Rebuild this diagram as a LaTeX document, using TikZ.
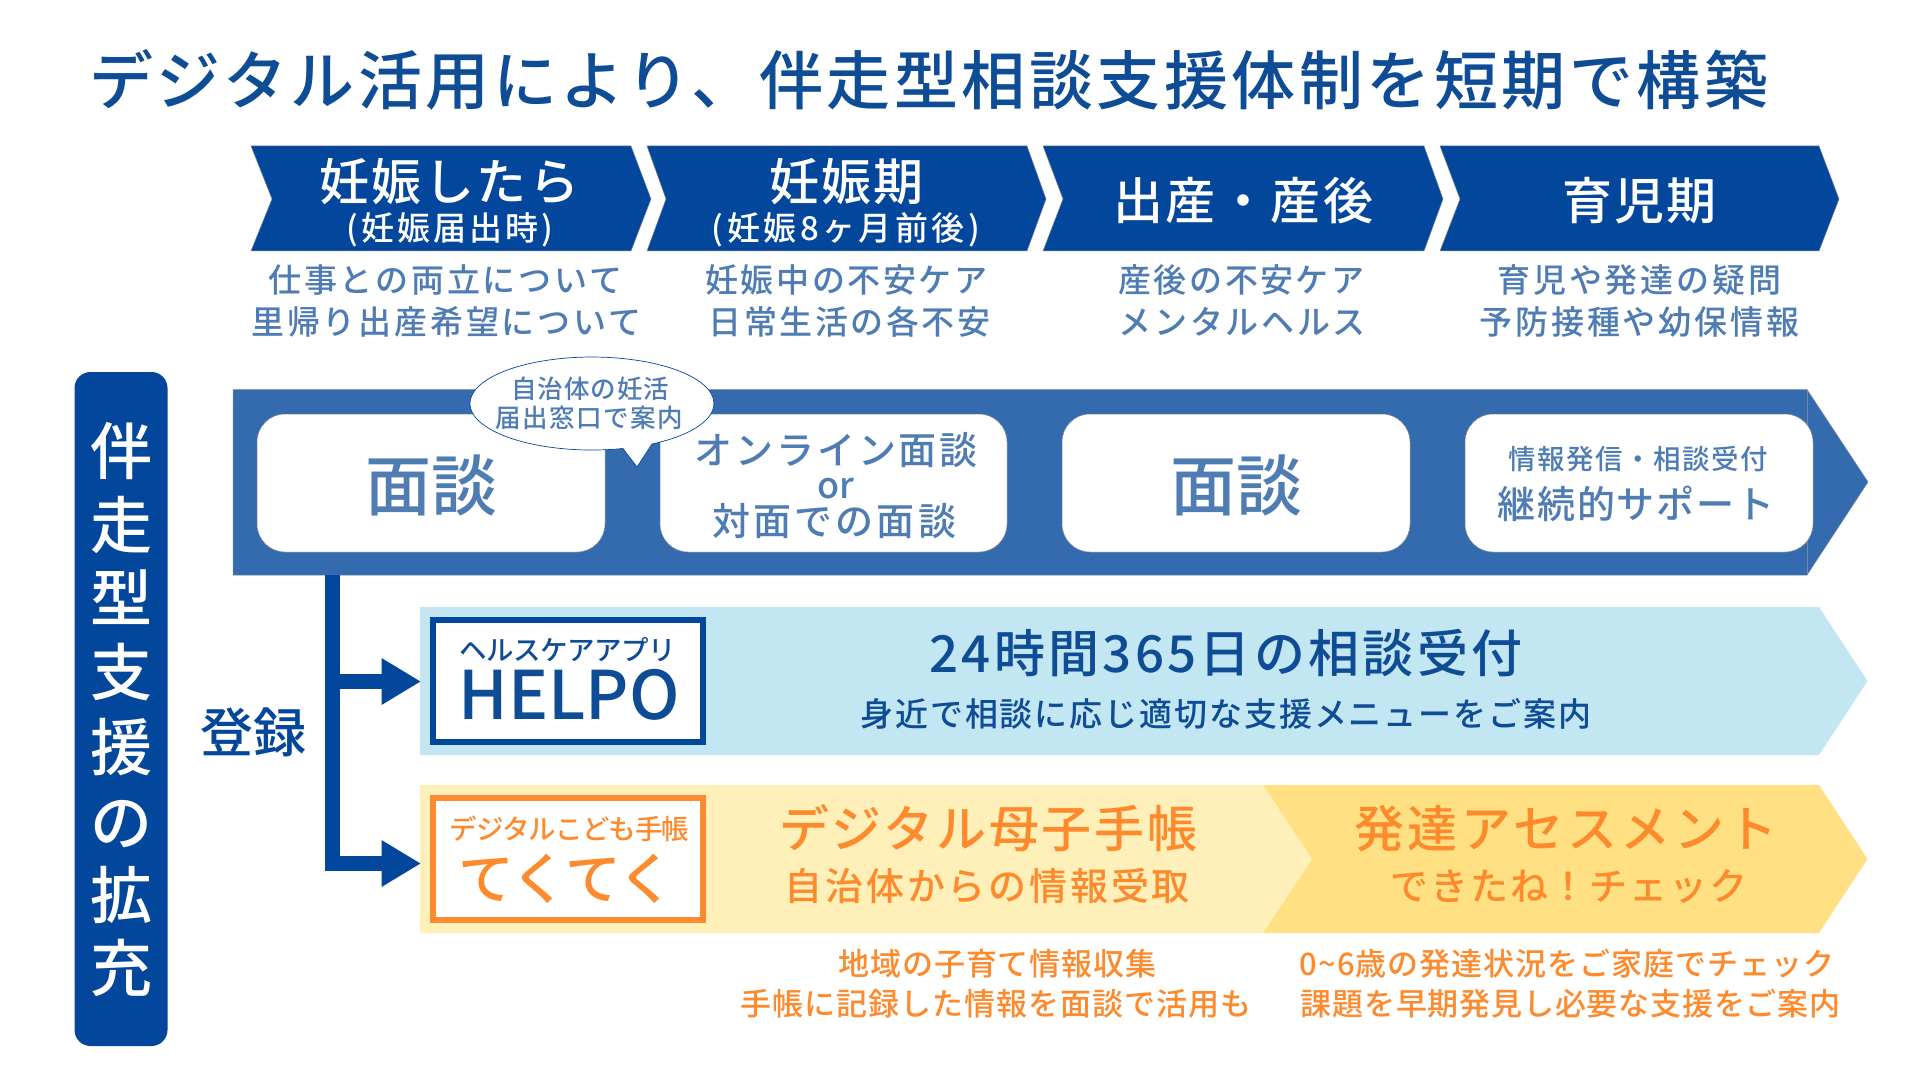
\documentclass[tikz,border=0pt]{standalone}
\usepackage{fontspec}
\usetikzlibrary{arrows.meta}
\setmainfont{Noto Sans CJK JP Medium}
\definecolor{navy}{HTML}{03479C}
\definecolor{band}{HTML}{336BAE}
\definecolor{steel}{HTML}{4F7DB3}
\definecolor{ink}{HTML}{0F4C96}
\definecolor{skyb}{HTML}{C3E6F3}
\definecolor{ylight}{HTML}{FFEFB8}
\definecolor{ydark}{HTML}{FFE083}
\definecolor{orng}{HTML}{FD8A2C}
\definecolor{edge}{HTML}{7C8796}
\tikzset{
  lab/.style={anchor=base,inner sep=0pt,outer sep=0pt},
  chev/.style={fill=navy,draw=edge,line width=.25pt},
  whitebox/.style={fill=white,draw=edge,line width=.25pt,rounded corners=14pt},
  logobox/.style={fill=white,line width=3pt,line join=miter},
  feed/.style={draw=navy,line width=7.5pt,line join=miter,-{Triangle[length=19.75pt,width=22pt]}}
}
% name, centre x, centre y, size, pitch (all in px), colour, text
\newcommand\lbl[7]{%
  \pgfmathsetmacro\lblsz{#4/2}%
  \pgfmathsetmacro\lbly{#3+0.37*#4}%
  \pgfmathsetmacro\lblx{#2-0.6*(#5-#4)}%
  \pgfmathsetmacro\lblls{(#5-#4)/#4*100}%
  \node[lab,text=#6] (#1) at (\lblx,\lbly) {\fontsize{\lblsz}{\lblsz}\selectfont
    \edef\lbltmp{\noexpand\addfontfeature{LetterSpace=\lblls}}\lbltmp #7};%
}
% left, shoulder, tip, notch
\newcommand\chevron[4]{\draw[chev] (#1,146) -- (#2,146) -- (#3,199) -- (#2,251) -- (#1,251) -- (#4,199) -- cycle;}
\begin{document}
\begin{tikzpicture}[x=.5pt,y=-.5pt]
\useasboundingbox (0,0) rectangle (1920,1080);
\fill[white] (0,0) rectangle (1920,1080);
% title
\lbl{title}{931}{81}{64}{67.5}{ink}{デジタル活用により、伴走型相談支援体制を短期で構築}
% phases
\chevron{251}{631}{651}{272}
\chevron{647}{1027}{1046}{666}
\chevron{1043}{1424}{1443}{1063}
\chevron{1440}{1819}{1839}{1460}
\lbl{p1}{451}{182}{50}{52.5}{white}{妊娠したら}
\lbl{p1s}{452}{228}{33}{36}{white}{(妊娠届出時)}
\lbl{p2}{848}{182}{50}{52}{white}{妊娠期}
\lbl{p2s}{848}{228}{33}{36.5}{white}{(妊娠8ヶ月前後)}
\lbl{p3}{1245}{201}{50}{52.5}{white}{出産・産後}
\lbl{p4}{1641}{201}{50}{52}{white}{育児期}
\lbl{d1a}{447}{280}{33}{35.8}{steel}{仕事との両立について}
\lbl{d1b}{448}{322}{33}{35.8}{steel}{里帰り出産希望について}
\lbl{d2a}{848}{280}{33}{35.6}{steel}{妊娠中の不安ケア}
\lbl{d2b}{851}{322}{33}{35.5}{steel}{日常生活の各不安}
\lbl{d3a}{1243}{280}{33}{35.5}{steel}{産後の不安ケア}
\lbl{d3b}{1244}{322}{33}{35.7}{steel}{メンタルヘルス}
\lbl{d4a}{1641}{280}{33}{35.8}{steel}{育児や発達の疑問}
\lbl{d4b}{1641}{322}{33}{35.8}{steel}{予防接種や幼保情報}
% main band
\draw[fill=band,draw=edge,line width=.25pt] (233,389.5) -- (1807,389.5) -- (1868,482) -- (1807,575) -- (233,575) -- cycle;
\draw[edge,line width=.25pt] (1807,389.5) -- (1807,575);
\coordinate (bandout) at (332.5,575);
\draw[whitebox] (257,414) rectangle (605,552);
\draw[whitebox] (660,414) rectangle (1007,552);
\draw[whitebox] (1062,414) rectangle (1410,552);
\draw[whitebox] (1465,414) rectangle (1813,552);
\lbl{m1}{432}{486}{66}{66.5}{steel}{面談}
\lbl{m2a}{838}{450}{38}{40.8}{steel}{オンライン面談}
\node[lab,text=steel] (m2b) at (836,498) {\fontsize{18}{18}\selectfont or};
\lbl{m2c}{836}{521}{38}{41.2}{steel}{対面での面談}
\lbl{m3}{1237}{486}{66}{66.5}{steel}{面談}
\lbl{m4a}{1639}{459}{27.5}{28.9}{steel}{情報発信・相談受付}
\lbl{m4b}{1637}{504}{38}{39.8}{steel}{継続的サポート}
% callout
\draw[fill=white,draw=navy,line width=.35pt] (652,444) arc[start angle=-60.5,end angle=284.7,x radius=61pt,y radius=23.25pt] -- (637,467) -- cycle;
\lbl{c1}{591}{389}{25.5}{26.5}{steel}{自治体の妊活}
\lbl{c2}{590}{418}{25.5}{26.9}{steel}{届出窓口で案内}
% left bar
\fill[navy,rounded corners=8pt] (74.5,372) rectangle (167.5,1046);
\lbl{v1}{121}{452}{62}{62}{white}{伴}
\lbl{v2}{121}{526}{62}{62}{white}{走}
\lbl{v3}{121}{599}{62}{62}{white}{型}
\lbl{v4}{121}{673}{62}{62}{white}{支}
\lbl{v5}{121}{748}{62}{62}{white}{援}
\lbl{v6}{121}{823}{62}{62}{white}{の}
\lbl{v7}{121}{896}{62}{62}{white}{拡}
\lbl{v8}{121}{969}{62}{62}{white}{充}
\lbl{reg}{253}{733}{53}{53}{navy}{登録}
% service bands
\fill[skyb] (420,607) -- (1819,607) -- (1867.5,681) -- (1819,755) -- (420,755) -- cycle;
\fill[ydark] (1263,785) -- (1819,785) -- (1867.5,859) -- (1819,933) -- (1263,933) -- cycle;
\fill[ylight] (420,785) -- (1263,785) -- (1312,859) -- (1263,933) -- (420,933) -- cycle;
\coordinate (helpin) at (421,681.5);
\coordinate (tekuin) at (421,863.5);
\draw[feed] (bandout) |- (helpin);
\draw[feed] (bandout) |- (tekuin);
% logos
\draw[logobox,draw=navy] (433,620) rectangle (703,742);
\draw[logobox,draw=orng] (433,798) rectangle (703,920);
\lbl{h1}{567}{650}{27.5}{27}{ink}{ヘルスケアアプリ}
\node[lab,text=ink] (h2) at (569,719) {\fontsize{33.5}{33.5}\selectfont HELPO};
\lbl{t1}{569}{829}{27.5}{26.6}{orng}{デジタルこども手帳}
\lbl{t2}{566}{879}{56}{55}{orng}{てくてく}
% service texts
\lbl{s1}{1228}{654}{51}{54.3}{ink}{24時間365日の相談受付}
\lbl{s2}{1227}{714}{33}{34.9}{ink}{身近で相談に応じ適切な支援メニューをご案内}
\lbl{y1}{990}{829}{50}{52.8}{orng}{デジタル母子手帳}
\lbl{y2}{989}{886}{38}{40.8}{orng}{自治体からの情報受取}
\lbl{y3}{1568}{829}{50}{53.5}{orng}{発達アセスメント}
\lbl{y4}{1570}{886}{38}{39.8}{orng}{できたね！チェック}
\lbl{n1}{998}{964}{31}{31.8}{orng}{地域の子育て情報収集}
\lbl{n2}{997}{1004}{31}{32}{orng}{手帳に記録した情報を面談で活用も}
\lbl{n3}{1568}{964}{31}{32}{orng}{0\char`\~6歳の発達状況をご家庭でチェック}
\lbl{n4}{1571}{1004}{31}{31.8}{orng}{課題を早期発見し必要な支援をご案内}
\end{tikzpicture}
\end{document}
